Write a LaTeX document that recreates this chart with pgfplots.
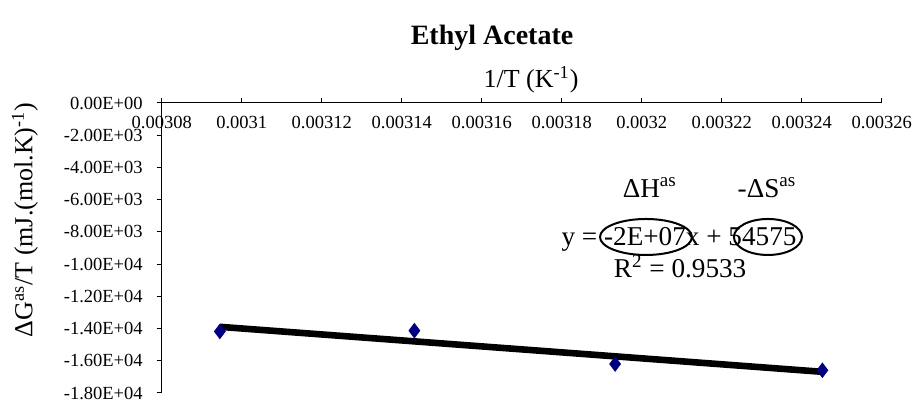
\documentclass[border=0pt]{standalone}
\usepackage{fontspec}
\setmainfont{Liberation Serif}
\usepackage{pgfplots}
\pgfplotsset{compat=1.18}
\usepackage{pgfplotstable}
\pgfplotstableread{
x y
0.00309454 -14180
0.00314317 -14130
0.00319336 -16200
0.00324517 -16590
}\datatable
\definecolor{navyblue}{RGB}{0,0,128}
\begin{document}
\begin{tikzpicture}
\useasboundingbox (0,0) rectangle (458pt,200.5pt);
\node[font=\fontsize{14}{16}\selectfont\bfseries, anchor=center] at (246pt,181.5pt) {Ethyl Acetate};
\begin{axis}[
  at={(80.85pt,4pt)}, anchor=south west,
  scale only axis, width=360pt, height=145pt,
  xmin=0.00308, xmax=0.00326, ymin=-18000, ymax=0,
  scaled ticks=false,
  axis x line=top, axis y line=left,
  axis line style={-, line width=0.5pt, black},
  tick align=outside, major tick length=2.5pt,
  tick style={black, line width=0.5pt},
  xtick={0.00308,0.0031,0.00312,0.00314,0.00316,0.00318,0.0032,0.00322,0.00324,0.00326},
  xticklabels={0.00308,0.0031,0.00312,0.00314,0.00316,0.00318,0.0032,0.00322,0.00324,0.00326},
  ytick={0,-2000,-4000,-6000,-8000,-10000,-12000,-14000,-16000,-18000},
  yticklabels={0.00E+00,-2.00E+03,-4.00E+03,-6.00E+03,-8.00E+03,-1.00E+04,-1.20E+04,-1.40E+04,-1.60E+04,-1.80E+04},
  ticklabel style={font=\fontsize{9.25}{11}\selectfont},
  xticklabel style={anchor=north, yshift=-5.5pt},
  yticklabel style={xshift=-3.5pt},
  xlabel={1/T (K\textsuperscript{-1})},
  xlabel style={at={(axis description cs:0.513,1.079)}, anchor=center, font=\fontsize{13}{15}\selectfont},
  ylabel={ΔG\textsuperscript{as}/T (mJ.(mol.K)\textsuperscript{-1})},
  ylabel style={at={(axis description cs:-0.190,0.597)}, anchor=center, font=\fontsize{13}{15}\selectfont},
  clip=false,
]
\addplot[only marks, mark=diamond*, mark size=3.6pt, draw=navyblue, fill=navyblue] table[x=x, y=y] {\datatable};
\addplot[black, line width=3.3pt, no marks] table[x=x, y={create col/linear regression={y=y}}] {\datatable};
\node[font=\fontsize{13.6}{15}\selectfont] at (axis description cs:0.678,0.708) {ΔH\textsuperscript{as}};
\node[font=\fontsize{13.6}{15}\selectfont] at (axis description cs:0.8407,0.708) {-ΔS\textsuperscript{as}};
\node[font=\fontsize{13.6}{15}\selectfont] at (axis description cs:0.7185,0.531) {y = -2E+07x + 54575};
\node[font=\fontsize{13.6}{15}\selectfont] at (axis description cs:0.720,0.437) {R\textsuperscript{2} = 0.9533};
\draw[line width=1pt] (axis description cs:0.6726,0.538) ellipse [x radius=23pt, y radius=9pt];
\draw[line width=1pt] (axis description cs:0.8420,0.538) ellipse [x radius=17pt, y radius=9pt];
\end{axis}
\end{tikzpicture}
\end{document}
